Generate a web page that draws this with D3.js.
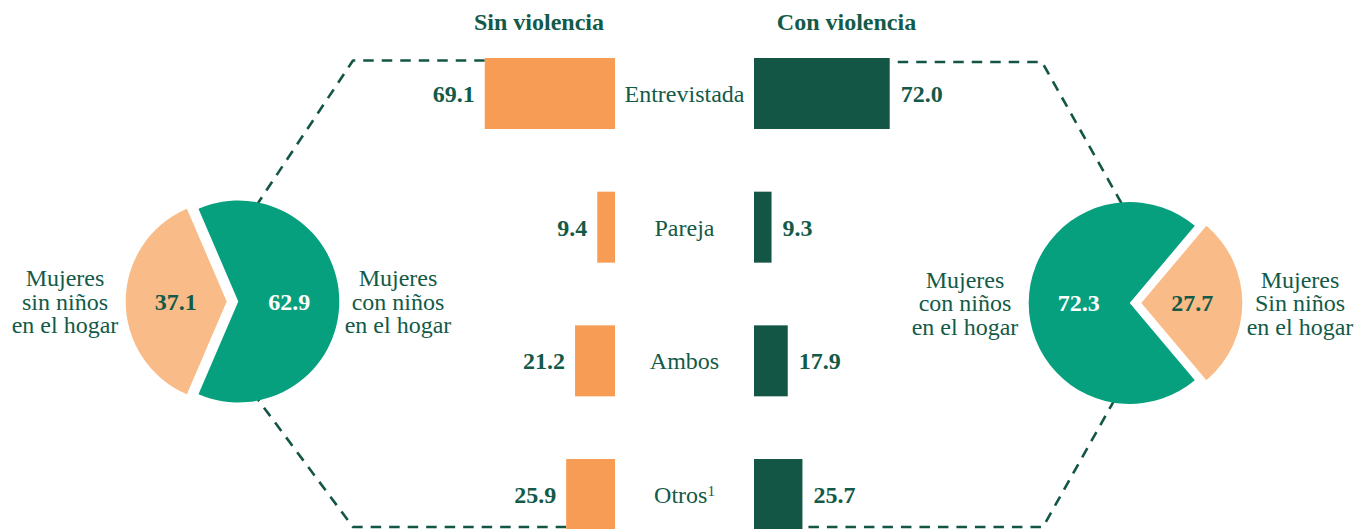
<!DOCTYPE html>
<html>
<head>
<meta charset="utf-8">
<script src="https://cdn.jsdelivr.net/npm/d3@7"></script>
<style>
  html, body { margin: 0; padding: 0; background: #fff; }
  svg text { font-family: "Liberation Serif", "Times New Roman", serif; }
</style>
</head>
<body>
<svg width="1354" height="529"></svg>
<script>
// data
var categories = ["Entrevistada", "Pareja", "Ambos", "Otros"];
var sinViolencia = [69.1, 9.4, 21.2, 25.9];
var conViolencia = [72.0, 9.3, 17.9, 25.7];
var headers = ["Sin violencia", "Con violencia"];

var pieLeftLabels = ["Mujeres con niños en el hogar", "Mujeres sin niños en el hogar"];
var pieLeftValues = [62.9, 37.1];
var pieRightLabels = ["Mujeres con niños en el hogar", "Mujeres Sin niños en el hogar"];
var pieRightValues = [72.3, 27.7];

var ink = "#135a48",
    orange = "#f79c55",
    lightOrange = "#f9bb87",
    green = "#07a07f",
    darkGreen = "#135646";

var svg = d3.select("svg");
var fmt = d3.format(".1f");

// scales for the middle bars
var y = d3.scaleBand()
  .domain(categories)
  .range([58, 530])
  .paddingInner(0.469)
  .paddingOuter(0);

var x = d3.scaleLinear().domain([0, 100]).range([0, 188.5]);

var leftEdge = 615, rightEdge = 754, midX = (leftEdge + rightEdge) / 2;

// dashed connectors, drawn first so the pies sit on top
var dash = svg.append("g")
  .attr("fill", "none")
  .attr("stroke", darkGreen)
  .attr("stroke-width", 2.6)
  .attr("stroke-dasharray", "10.5,8")
  .attr("stroke-linejoin", "round");

var last = categories.length - 1;
dash.append("path").attr("d", d3.line()([[leftEdge - x(sinViolencia[0]), 60.5], [353, 60.5], [256, 206]]));
dash.append("path").attr("d", d3.line()([[leftEdge - x(sinViolencia[last]), 527], [353, 527], [256, 397]]));
dash.append("path").attr("d", d3.line()([[rightEdge + x(conViolencia[0]) + 8, 62], [1042, 62], [1123, 206]]));
dash.append("path").attr("d", d3.line()([[rightEdge + x(conViolencia[last]) + 6, 527], [1043, 527], [1115, 399]]));

// headers
svg.selectAll(".header")
  .data(headers)
  .enter().append("text")
    .attr("class", "header")
    .attr("x", function(d, i) { return i === 0 ? 539 : 846.5; })
    .attr("y", 30)
    .attr("text-anchor", "middle")
    .attr("font-size", 24)
    .attr("font-weight", "bold")
    .attr("fill", ink)
    .text(function(d) { return d; });

// one row per category: left bar, right bar, values and label
var rows = categories.map(function(c, i) {
  return {cat: c, sin: sinViolencia[i], con: conViolencia[i]};
});

var row = svg.append("g").selectAll("g")
  .data(rows)
  .enter().append("g");

row.append("rect")
  .attr("x", function(d) { return leftEdge - x(d.sin); })
  .attr("y", function(d) { return y(d.cat); })
  .attr("width", function(d) { return x(d.sin); })
  .attr("height", y.bandwidth())
  .attr("fill", orange);

row.append("rect")
  .attr("x", rightEdge)
  .attr("y", function(d) { return y(d.cat); })
  .attr("width", function(d) { return x(d.con); })
  .attr("height", y.bandwidth())
  .attr("fill", darkGreen);

row.append("text")
  .attr("x", function(d) { return leftEdge - x(d.sin) - 10; })
  .attr("y", function(d) { return y(d.cat) + y.bandwidth() / 2; })
  .attr("dy", "0.35em")
  .attr("text-anchor", "end")
  .attr("font-size", 24)
  .attr("font-weight", "bold")
  .attr("fill", ink)
  .text(function(d) { return fmt(d.sin); });

row.append("text")
  .attr("x", function(d) { return rightEdge + x(d.con) + 11; })
  .attr("y", function(d) { return y(d.cat) + y.bandwidth() / 2; })
  .attr("dy", "0.35em")
  .attr("text-anchor", "start")
  .attr("font-size", 24)
  .attr("font-weight", "bold")
  .attr("fill", ink)
  .text(function(d) { return fmt(d.con); });

var catText = row.append("text")
  .attr("x", midX)
  .attr("y", function(d) { return y(d.cat) + y.bandwidth() / 2; })
  .attr("dy", "0.35em")
  .attr("text-anchor", "middle")
  .attr("font-size", 24)
  .attr("fill", ink)
  .text(function(d) { return d.cat; });

catText.filter(function(d) { return d.cat === "Otros"; })
  .append("tspan")
    .attr("dy", "-0.45em")
    .attr("font-size", 15)
    .text("1");

// pies, slices pushed apart along their bisector
function drawPie(cx, cy, values, labels, fills, textFills, startMid, labelX) {
  var r = 101, off = 5.8;
  var frac = values[0] / d3.sum(values);
  var start = startMid - frac * Math.PI;
  var pie = d3.pie().sort(null).startAngle(start).endAngle(start + 2 * Math.PI);
  var arc = d3.arc().innerRadius(0).outerRadius(r);
  var g = svg.append("g").attr("transform", "translate(" + cx + "," + cy + ")");

  var slices = g.selectAll("g")
    .data(pie(values))
    .enter().append("g")
      .attr("transform", function(d) {
        var a = (d.startAngle + d.endAngle) / 2;
        return "translate(" + off * Math.sin(a) + "," + (-off * Math.cos(a)) + ")";
      });

  slices.append("path")
    .attr("d", arc)
    .attr("fill", function(d, i) { return fills[i]; });

  slices.append("text")
    .attr("x", function(d) { return 51 * Math.sin((d.startAngle + d.endAngle) / 2); })
    .attr("y", function(d) { return -51 * Math.cos((d.startAngle + d.endAngle) / 2); })
    .attr("dy", "0.35em")
    .attr("text-anchor", "middle")
    .attr("font-size", 24)
    .attr("font-weight", "bold")
    .attr("fill", function(d, i) { return textFills[i]; })
    .text(function(d) { return fmt(d.value); });

  // side labels, three lines each
  labels.forEach(function(lab, i) {
    var words = lab.split(" ");
    var lines = [words[0], words[1] + " " + words[2], words.slice(3).join(" ")];
    var t = svg.append("text")
      .attr("text-anchor", "middle")
      .attr("font-size", 24)
      .attr("fill", ink);
    t.selectAll("tspan")
      .data(lines)
      .enter().append("tspan")
        .attr("x", labelX[i])
        .attr("y", function(d, j) { return cy - 23.5 + j * 23.5; })
        .attr("dy", "0.35em")
        .text(function(d) { return d; });
  });
}

drawPie(232.5, 301.5, pieLeftValues, pieLeftLabels, [green, lightOrange], ["#fff", ink], Math.PI / 2, [398, 65]);
drawPie(1135.5, 303, pieRightValues, pieRightLabels, [green, lightOrange], ["#fff", ink], 3 * Math.PI / 2, [965, 1300]);
</script>
</body>
</html>
